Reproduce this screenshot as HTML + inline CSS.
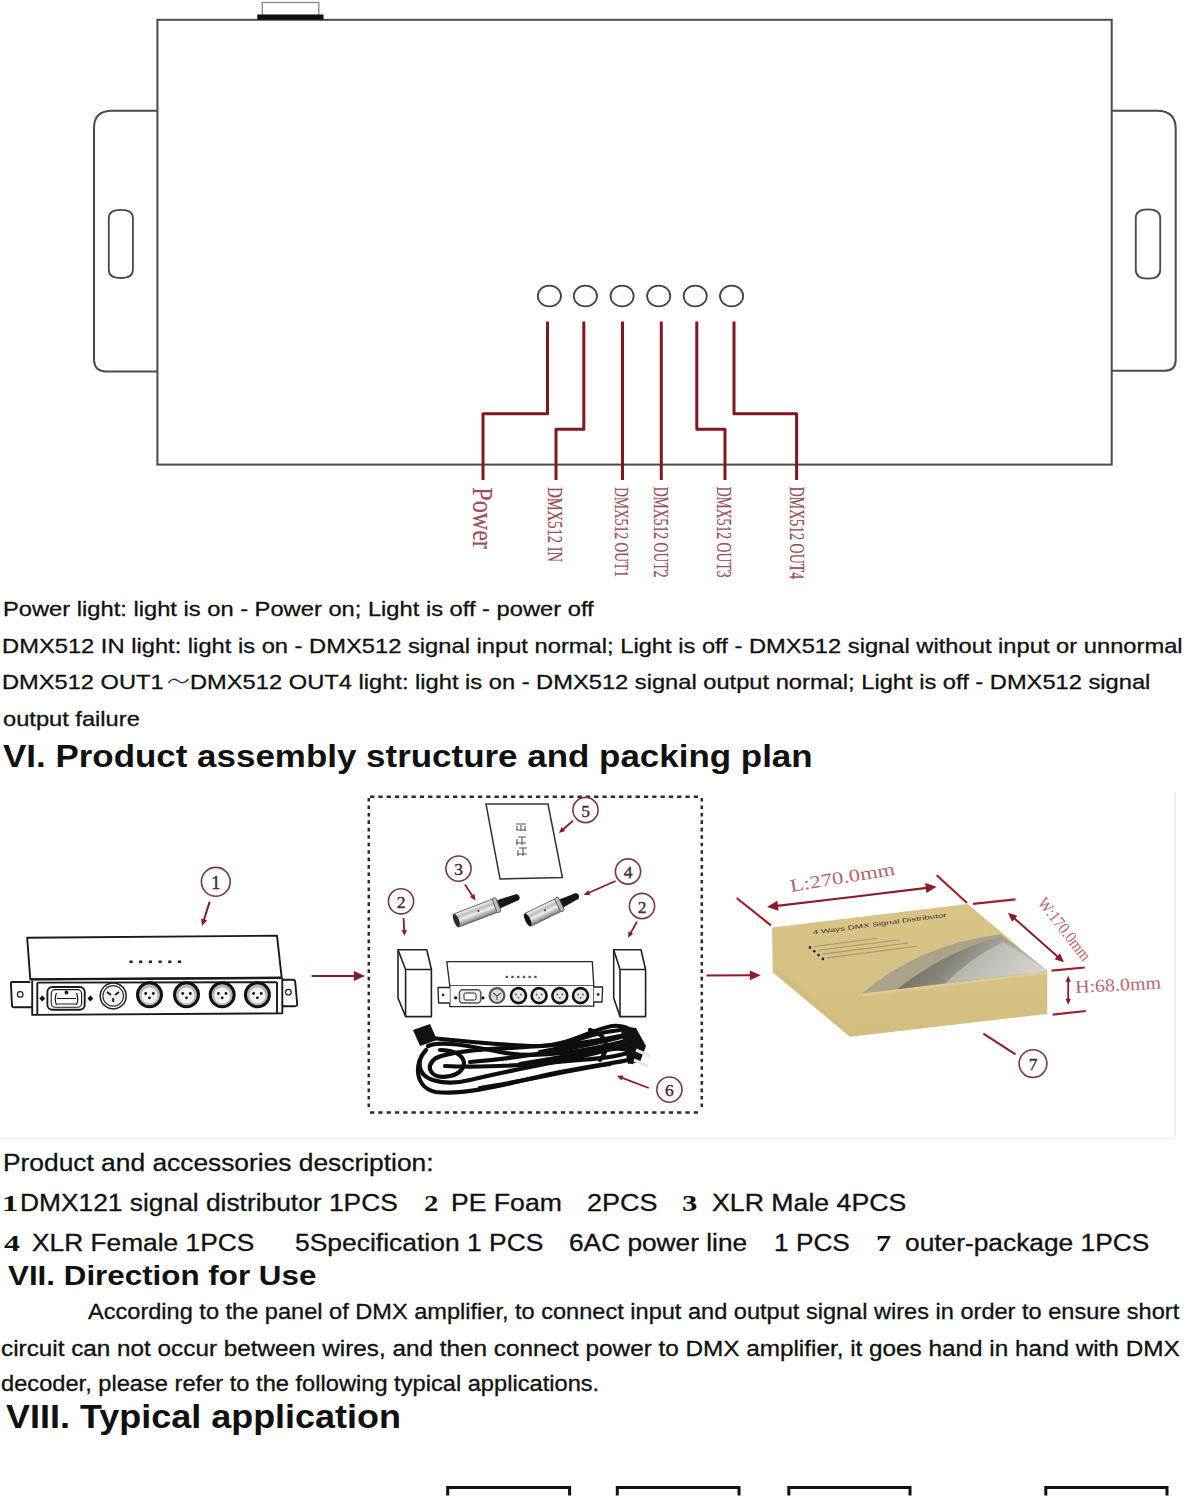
<!DOCTYPE html>
<html><head><meta charset="utf-8"><style>
html,body{margin:0;padding:0;background:#fff;}
body{width:1185px;height:1500px;position:relative;overflow:hidden;}
.t{position:absolute;white-space:nowrap;font-family:"Liberation Sans",sans-serif;color:#111;transform-origin:0 0;-webkit-text-stroke:0.3px #111;}
.b{-webkit-text-stroke:0;}
svg{position:absolute;left:0;top:0;}
.v{position:absolute;white-space:nowrap;font-family:"Liberation Serif",serif;color:#a04e56;transform-origin:0 0;-webkit-text-stroke:0.15px #8a3a42;}
</style></head><body>
<svg width="1185" height="1500" viewBox="0 0 1185 1500">
<defs>
<linearGradient id="silver" x1="0" y1="0" x2="0" y2="1">
 <stop offset="0" stop-color="#fbfbfb"/><stop offset="0.3" stop-color="#bdbdbd"/><stop offset="0.55" stop-color="#ededed"/><stop offset="1" stop-color="#7a7a7a"/>
</linearGradient>
<linearGradient id="win" x1="0" y1="0" x2="1" y2="0.3">
 <stop offset="0" stop-color="#5f5b4d"/><stop offset="0.45" stop-color="#85827a"/><stop offset="1" stop-color="#d5d4d0"/>
</linearGradient>
<marker id="ah" viewBox="0 0 10 10" refX="9" refY="5" markerWidth="4" markerHeight="4" orient="auto-start-reverse">
 <path d="M0 0 L10 5 L0 10 Z" fill="#c0141e"/>
</marker>
</defs>
<g fill="none" stroke="#4a4a4a" stroke-width="2">
  <rect x="262.3" y="2.5" width="56.5" height="13" stroke="#888" stroke-width="1.3"/>
  <rect x="157.4" y="19.8" width="954.3" height="444.8"/>
  <path d="M157.4 110.8 H112 Q94 110.8 94 128 V360 Q94.5 371.4 106 371.4 H157.4"/>
  <path d="M1111.7 110.7 H1157 Q1175.7 110.7 1175.7 129 V360 Q1175.7 370.7 1165 370.7 H1111.7"/>
  <path d="M108.8 218 Q108.8 209.8 120.8 209.8 Q132.9 209.8 132.9 218 V270 Q132.9 278 120.8 278 Q108.8 278 108.8 270 Z" stroke-width="1.8"/>
  <path d="M1135.8 218 Q1135.8 209.4 1148 209.4 Q1160.2 209.4 1160.2 218 V270 Q1160.2 278.6 1148 278.6 Q1135.8 278.6 1135.8 270 Z" stroke-width="1.8"/>
</g>
<g fill="none" stroke="#444" stroke-width="1.8">
<ellipse cx="549.4" cy="296" rx="11.6" ry="10.4"/>
<ellipse cx="585.4" cy="296" rx="11.6" ry="10.4"/>
<ellipse cx="622.1" cy="296" rx="11.6" ry="10.4"/>
<ellipse cx="658.7" cy="296" rx="11.6" ry="10.4"/>
<ellipse cx="695.2" cy="296" rx="11.6" ry="10.4"/>
<ellipse cx="731.6" cy="296" rx="11.6" ry="10.4"/>
</g>
<rect x="257.3" y="14.5" width="66.2" height="5.2" fill="#111"/>
<g fill="none" stroke="#84161f" stroke-width="3" stroke-linejoin="round">
  <path d="M547.5 321.5 V413.7 H483 V480"/>
  <path d="M583.8 321.5 V429.3 H556 V480"/>
  <path d="M622.5 321.5 V480"/>
  <path d="M661.3 321.5 V480"/>
  <path d="M696.8 321.5 V429.3 H725 V480"/>
  <path d="M734 321.5 V413.7 H796.6 V480"/>
</g>
<path d="M1175 792 V1138.5 H0" fill="none" stroke="#f2f2f2" stroke-width="2"/>
<g fill="none" stroke="#1a1a1a" stroke-width="1.9" stroke-linejoin="round">
<path d="M27.2 937.7 L277 935.7 L281.7 977.8 L30.3 979.4 Z" fill="#fff"/>
<path d="M30.3 979.4 L281.7 977.8" stroke-width="2.4"/>
<path d="M37.3 982.6 L277 982.2"/>
<path d="M32.2 980.7 L32.2 1014.9 L282.3 1013.3 L282.3 978"/>
<path d="M37.3 982.6 L37.3 1014.5"/>
<path d="M277 982.2 L277 1013.4"/>
<path d="M30 982 L12 982 Q10.7 982 10.9 984 L12 1005.5 Q12.2 1007.3 14 1007.3 L32 1007.3"/>
<circle cx="20.2" cy="994.4" r="2.8" stroke-width="1.2"/>
<path d="M282 979.8 L293 979.8 Q295 979.8 295.2 982 L297.2 1004 Q297.3 1006.2 295 1006.2 L282.3 1006.2"/>
<circle cx="288.4" cy="992.2" r="2.8" stroke-width="1.2"/>
<rect x="47.4" y="987" width="37.3" height="22.8" rx="5"/>
<rect x="51.2" y="989.6" width="30.4" height="17.7" rx="4" stroke-width="1.1"/>
<path d="M56.5 993 Q54 999 56.5 1005 M76.5 993 Q79 999 76.5 1005 M57 998.5 H76 M57 1004 H76" stroke-width="1.2"/>
<circle cx="66.4" cy="992.5" r="1" fill="#111"/>
</g>
<path d="M42.3 995.4 L45.3 998.4 L42.3 1001.4 L39.3 998.4 Z M90.4 995.4 L93.4 998.4 L90.4 1001.4 L87.4 998.4 Z" fill="#111"/>
<circle cx="113.2" cy="995.9" r="13" fill="#fff" stroke="#222" stroke-width="1.5"/>
<circle cx="113.2" cy="995.9" r="10.3" fill="#f2f2f2" stroke="#333" stroke-width="1.2"/>
<path d="M107 992 L111 995 M119 992 L115 995 M113.2 1002 V998" stroke="#222" stroke-width="2"/>
<circle cx="149.5" cy="994.8" r="12" fill="#b8b8b8" stroke="#111" stroke-width="3"/>
<circle cx="149.5" cy="995.5" r="8" fill="#f4f4f4"/>
<circle cx="145.7" cy="993.5" r="1.4" fill="#111"/><circle cx="153.3" cy="993.5" r="1.4" fill="#111"/><circle cx="149.5" cy="997.8" r="1.4" fill="#111"/>
<circle cx="186.5" cy="994.8" r="12" fill="#b8b8b8" stroke="#111" stroke-width="3"/>
<circle cx="186.5" cy="995.5" r="8" fill="#f4f4f4"/>
<circle cx="182.7" cy="993.5" r="1.4" fill="#111"/><circle cx="190.3" cy="993.5" r="1.4" fill="#111"/><circle cx="186.5" cy="997.8" r="1.4" fill="#111"/>
<circle cx="222.2" cy="994.8" r="12" fill="#b8b8b8" stroke="#111" stroke-width="3"/>
<circle cx="222.2" cy="995.5" r="8" fill="#f4f4f4"/>
<circle cx="218.39999999999998" cy="993.5" r="1.4" fill="#111"/><circle cx="226.0" cy="993.5" r="1.4" fill="#111"/><circle cx="222.2" cy="997.8" r="1.4" fill="#111"/>
<circle cx="257.4" cy="994.8" r="12" fill="#b8b8b8" stroke="#111" stroke-width="3"/>
<circle cx="257.4" cy="995.5" r="8" fill="#f4f4f4"/>
<circle cx="253.59999999999997" cy="993.5" r="1.4" fill="#111"/><circle cx="261.2" cy="993.5" r="1.4" fill="#111"/><circle cx="257.4" cy="997.8" r="1.4" fill="#111"/>
<rect x="129.4" y="960.5" width="3.2" height="2.6" fill="#222"/>
<rect x="139.1" y="960.5" width="3.2" height="2.6" fill="#222"/>
<rect x="148.8" y="960.5" width="3.2" height="2.6" fill="#222"/>
<rect x="158.5" y="960.5" width="3.2" height="2.6" fill="#222"/>
<rect x="168.20000000000002" y="960.5" width="3.2" height="2.6" fill="#222"/>
<rect x="177.9" y="960.5" width="3.2" height="2.6" fill="#222"/>
<circle cx="215.8" cy="881.8" r="14.4" fill="none" stroke="#7a3a42" stroke-width="1.6"/>
<text x="215.8" y="889.0" font-family="Liberation Serif" font-size="18.400000000000002" font-weight="400" fill="#4a2a30" stroke="#4a2a30" stroke-width="0.4" text-anchor="middle">1</text>
<line x1="209.7" y1="901.6" x2="203.8056658708069" y2="920.2781497080924" stroke="#8a1c26" stroke-width="2"/>
<path d="M202 926 L201.10263877935657 918.3765334106008 L207.11058158585953 920.2724825749481 Z" fill="#8a1c26"/>
<line x1="311.6" y1="976" x2="355.0" y2="976.0" stroke="#8a1c26" stroke-width="2"/>
<path d="M365 976 L354.0 980.95 L354.0 971.05 Z" fill="#8a1c26"/>
<g fill="none" stroke="#2a2a2a" stroke-width="2.5">
<path d="M370 796.7 H701.8 M370 1112.4 H701.8" stroke-dasharray="4.3 4"/>
<path d="M368.8 798 V1111 M701.8 798 V1111" stroke-dasharray="3.6 3.85"/>
</g>
<path d="M486 804 L548 804 L562.4 877.5 L500 879 Z" fill="#fff" stroke="#333" stroke-width="1.5"/>
<path d="M516 824 h10 M517 826 v4 M521 825 v6 M525 826 v5 M516 830 h10 M518 837 h8 M517 839 v6 M522 837 v8 M516 843 h10 M519 848 h8 M518 850 v6 M523 848 v8 M517 854 h10" stroke="#555" stroke-width="1.1" fill="none"/>
<circle cx="585.5" cy="810" r="12.6" fill="none" stroke="#7a3a42" stroke-width="1.6"/>
<text x="585.5" y="816.84" font-family="Liberation Serif" font-size="17.48" font-weight="400" fill="#4a2a30" stroke="#4a2a30" stroke-width="0.4" text-anchor="middle">5</text>
<line x1="573" y1="820.8" x2="562.6810985781442" y2="829.7284111593361" stroke="#8a1c26" stroke-width="1.8"/>
<path d="M558.9 833 L561.6706603198146 827.0323001590056 L565.2039762677315 831.1158866234013 Z" fill="#8a1c26"/>
<circle cx="458.5" cy="868.6" r="12.6" fill="none" stroke="#7a3a42" stroke-width="1.6"/>
<text x="458.5" y="875.44" font-family="Liberation Serif" font-size="17.48" font-weight="400" fill="#4a2a30" stroke="#4a2a30" stroke-width="0.4" text-anchor="middle">3</text>
<line x1="464.9" y1="884.6" x2="472.7264990188738" y2="896.3397485283108" stroke="#8a1c26" stroke-width="1.8"/>
<path d="M475.5 900.5 L469.9252630279364 897.0053887637811 L474.4183346173608 894.0100077041649 Z" fill="#8a1c26"/>
<circle cx="628" cy="871.5" r="12.6" fill="none" stroke="#7a3a42" stroke-width="1.6"/>
<text x="628" y="878.34" font-family="Liberation Serif" font-size="17.48" font-weight="400" fill="#4a2a30" stroke="#4a2a30" stroke-width="0.4" text-anchor="middle">4</text>
<line x1="615.6" y1="881" x2="588.278477815781" y2="892.9906366952686" stroke="#8a1c26" stroke-width="1.8"/>
<path d="M583.7 895 L588.1091171943822 890.1163860138005 L590.2792295634922 895.061142054844 Z" fill="#8a1c26"/>
<circle cx="401" cy="901.3" r="12.6" fill="none" stroke="#7a3a42" stroke-width="1.6"/>
<text x="401" y="908.14" font-family="Liberation Serif" font-size="17.48" font-weight="400" fill="#4a2a30" stroke="#4a2a30" stroke-width="0.4" text-anchor="middle">2</text>
<line x1="403.5" y1="918" x2="404.2950134102932" y2="931.0093103502522" stroke="#8a1c26" stroke-width="1.8"/>
<path d="M404.6 936 L401.53904368148807 930.1758651787444 L406.92898850321563 929.846479661861 Z" fill="#8a1c26"/>
<circle cx="642" cy="906" r="12.6" fill="none" stroke="#7a3a42" stroke-width="1.6"/>
<text x="642" y="912.84" font-family="Liberation Serif" font-size="17.48" font-weight="400" fill="#4a2a30" stroke="#4a2a30" stroke-width="0.4" text-anchor="middle">2</text>
<line x1="636.9" y1="921.8" x2="630.4305330334405" y2="933.4305024117922" stroke="#8a1c26" stroke-width="1.8"/>
<path d="M628 937.8 L628.5571109424965 931.2441150560927 L633.2761683377609 933.8690907322085 Z" fill="#8a1c26"/>
<g transform="translate(455,921) rotate(-20.97220656974625)">
<path d="M44.3870671631652 -4.5 L67.2901868954039 -3.2 Q70.7901868954039 0 67.2901868954039 3.2 L44.3870671631652 4.5 Z" fill="#161616"/>
<rect x="0" y="-7" width="46.3870671631652" height="14" rx="2" fill="url(#silver)" stroke="#555" stroke-width="0.8"/>
<rect x="42.3870671631652" y="-7.5" width="4" height="15" rx="1" fill="#bdbdbd" stroke="#555" stroke-width="0.8"/>
<ellipse cx="1.5" cy="0" rx="2.6" ry="6.8" fill="#2a2a2a"/>
<circle cx="25.512886939740863" cy="-1" r="1" fill="#333"/>
</g>
<g transform="translate(526.4,920.5) rotate(-25.951817015253592)">
<path d="M36.748935469248764 -4.5 L56.49888887833686 -3.2 Q59.99888887833686 0 56.49888887833686 3.2 L36.748935469248764 4.5 Z" fill="#161616"/>
<rect x="0" y="-7" width="38.748935469248764" height="14" rx="2" fill="url(#silver)" stroke="#555" stroke-width="0.8"/>
<rect x="34.748935469248764" y="-7.5" width="4" height="15" rx="1" fill="#bdbdbd" stroke="#555" stroke-width="0.8"/>
<ellipse cx="1.5" cy="0" rx="2.6" ry="6.8" fill="#111"/>
<circle cx="21.311914508086822" cy="-1" r="1" fill="#333"/>
</g>
<g fill="#fff" stroke="#222" stroke-width="1.6" stroke-linejoin="round">
<path d="M398 949.7 L426.8 949.7 L431.4 969.5 L431.4 1016.6 L405.6 1016.6 L398 998 Z"/>
<path d="M398 949.7 L405.6 969.5 L431.4 969.5 M405.6 969.5 V1016.6" fill="none"/>
<path d="M613.7 949.7 L641 949.7 L645.6 969.5 L645.6 1016.6 L620 1016.6 L613.7 998 Z"/>
<path d="M613.7 949.7 L620 969.5 L645.6 969.5 M620 969.5 V1016.6" fill="none"/>
</g>
<g fill="#fff" stroke="#222" stroke-width="1.3" stroke-linejoin="round">
<path d="M446.8 961.6 L592.3 961.6 L593.8 986 L449.8 986 Z"/>
<path d="M449.8 986 L449.8 1006.7 L593.8 1006 L593.8 986"/>
<path d="M449.8 987.5 L438 987.5 L438.6 1003 L449.8 1003 M593.8 987 L602.6 987 L602 1002 L593.8 1002"/>
<rect x="459.4" y="989.7" width="21.4" height="13.3" rx="3.5" stroke-width="1.5" stroke="#555" fill="#eee"/>
<rect x="464" y="993" width="12" height="7" rx="1.5" stroke-width="1" fill="#fff"/>
</g>
<circle cx="443.1" cy="994.9" r="1.4" fill="#333"/><circle cx="598.2" cy="994.5" r="1.4" fill="#333"/>
<circle cx="455.7" cy="997.8" r="1.6" fill="#111"/><circle cx="483" cy="997.8" r="1.6" fill="#111"/>
<circle cx="497" cy="995.6" r="7.4" fill="#ddd" stroke="#555" stroke-width="2.2"/><path d="M493 993 L497 996 L501 993 M497 996 V1000" stroke="#555" stroke-width="1.2" fill="none"/>
<circle cx="518.5" cy="995.6" r="7.5" fill="#e8e8e8" stroke="#111" stroke-width="2.6"/><circle cx="516.0" cy="994.5" r="0.9" fill="#555"/><circle cx="521.0" cy="994.5" r="0.9" fill="#555"/><circle cx="518.5" cy="997.8" r="0.9" fill="#555"/>
<circle cx="539.1" cy="995.6" r="7.5" fill="#e8e8e8" stroke="#111" stroke-width="2.6"/><circle cx="536.6" cy="994.5" r="0.9" fill="#555"/><circle cx="541.6" cy="994.5" r="0.9" fill="#555"/><circle cx="539.1" cy="997.8" r="0.9" fill="#555"/>
<circle cx="559.8" cy="995.6" r="7.5" fill="#e8e8e8" stroke="#111" stroke-width="2.6"/><circle cx="557.3" cy="994.5" r="0.9" fill="#555"/><circle cx="562.3" cy="994.5" r="0.9" fill="#555"/><circle cx="559.8" cy="997.8" r="0.9" fill="#555"/>
<circle cx="580.5" cy="995.6" r="7.5" fill="#e8e8e8" stroke="#111" stroke-width="2.6"/><circle cx="578.0" cy="994.5" r="0.9" fill="#555"/><circle cx="583.0" cy="994.5" r="0.9" fill="#555"/><circle cx="580.5" cy="997.8" r="0.9" fill="#555"/>
<rect x="505.6" y="975.8" width="2.4" height="2.2" fill="#555"/>
<rect x="511.32" y="975.8" width="2.4" height="2.2" fill="#555"/>
<rect x="517.04" y="975.8" width="2.4" height="2.2" fill="#555"/>
<rect x="522.76" y="975.8" width="2.4" height="2.2" fill="#555"/>
<rect x="528.48" y="975.8" width="2.4" height="2.2" fill="#555"/>
<rect x="534.1999999999999" y="975.8" width="2.4" height="2.2" fill="#555"/>
<g fill="none" stroke="#0d0d0d" stroke-width="4.2" stroke-linecap="round" stroke-linejoin="round">
<path d="M432 1038 C470 1042, 510 1046, 540 1046 C570 1045, 590 1030, 612 1026 C630 1024, 640 1036, 636 1046"/>
<path d="M428 1046 C440 1040, 470 1046, 500 1052 C540 1060, 590 1050, 630 1040"/>
<path d="M426 1050 C414 1062, 414 1088, 436 1092 C470 1096, 520 1080, 560 1072 C600 1064, 625 1062, 636 1058"/>
<path d="M420 1060 C416 1082, 446 1086, 470 1080 C510 1070, 560 1062, 600 1052 C620 1046, 636 1048, 632 1062"/>
<path d="M440 1050 C470 1050, 470 1072, 450 1076 C430 1080, 424 1066, 436 1058 C460 1046, 540 1050, 600 1040"/>
<path d="M470 1062 C520 1058, 580 1048, 625 1036"/>
<path d="M445 1066 C480 1068, 520 1066, 580 1060 C610 1058, 630 1054, 640 1048"/>
<path d="M480 1088 C520 1082, 570 1070, 610 1064"/>
<path d="M560 1046 C580 1038, 600 1032, 620 1030"/>
<path d="M540 1052 C570 1046, 600 1040, 630 1034"/>
<path d="M520 1064 C560 1058, 600 1050, 632 1044"/>
<path d="M590 1030 C605 1034, 612 1046, 600 1060"/>
</g>
<path d="M413 1030 L430 1024 L437 1040 L420 1046 Z" fill="#111"/>
<path d="M620 1026 L636 1028 L646 1046 L640 1062 L628 1064 Z" fill="#111"/>
<path d="M636 1050 L650 1056 M634 1060 L648 1066" stroke="#e8e8e8" stroke-width="3"/>
<circle cx="669.4" cy="1089.6" r="12.6" fill="none" stroke="#7a3a42" stroke-width="1.6"/>
<text x="669.4" y="1096.4399999999998" font-family="Liberation Serif" font-size="17.48" font-weight="400" fill="#4a2a30" stroke="#4a2a30" stroke-width="0.4" text-anchor="middle">6</text>
<line x1="648.8" y1="1088" x2="621.4719759449921" y2="1077.5811908290282" stroke="#8a1c26" stroke-width="1.8"/>
<path d="M616.8 1075.8 L623.3682141816658 1075.414561984538 L621.4445280863152 1080.4602960051297 Z" fill="#8a1c26"/>
<line x1="706.5" y1="975.6" x2="750.800152617" y2="975.3552477755966" stroke="#8a1c26" stroke-width="2"/>
<path d="M760.8 975.3 L749.8275155276203 980.3106970077413 L749.7728202297797 970.4108480985713 Z" fill="#8a1c26"/>
<linearGradient id="boxg" x1="0" y1="0" x2="0" y2="1"><stop offset="0" stop-color="#d8c487"/><stop offset="0.6" stop-color="#d5c183"/><stop offset="1" stop-color="#d2be7d"/></linearGradient>
<path d="M772.1 927.4 L967.6 904 L1047.3 971 L1047.3 1014 L850 1036.7 L772.7 972.3 Z" fill="url(#boxg)"/>
<path d="M772.7 972.3 L850 1036.7 L852 1032 L776 968 Z" fill="#cdb978" opacity="0.5"/>
<path d="M861.9 993.6 L1047.3 971 L1047.3 974 L862 996.5 Z" fill="#e0cf98" opacity="0.7"/>
<path d="M861.9 993.6 Q920 944 1000.5 934.3 L1047.3 971 Z" fill="#a9a38a"/>
<path d="M897 989.3 Q948 950 1000.5 937 L1047.3 971 Z" fill="url(#win)"/>
<path d="M945 983.5 Q972 957 1003 942 L1047.3 971 Z" fill="#d0cfcb" opacity="0.55"/>
<text x="813" y="934.5" font-family="Liberation Sans" font-size="6" font-weight="400" fill="#3a3528" transform="rotate(-7.5 813 934.5)" textLength="135" lengthAdjust="spacingAndGlyphs">4 Ways DMX Signal Distributor</text>
<circle cx="810.0" cy="947.5" r="1.3" fill="#1a1a1a"/>
<line x1="814.0" y1="946.5" x2="877.0" y2="938.31" stroke="#a8976a" stroke-width="1.1"/>
<circle cx="814.3" cy="951.3" r="1.3" fill="#1a1a1a"/>
<line x1="818.3" y1="950.3" x2="899.3" y2="939.77" stroke="#a8976a" stroke-width="1.1"/>
<circle cx="818.6" cy="955.1" r="1.3" fill="#1a1a1a"/>
<line x1="822.6" y1="954.1" x2="908.1" y2="942.985" stroke="#a8976a" stroke-width="1.1"/>
<circle cx="822.9" cy="958.9" r="1.3" fill="#1a1a1a"/>
<line x1="826.9" y1="957.9" x2="916.9" y2="946.1999999999999" stroke="#a8976a" stroke-width="1.1"/>
<line x1="736.7" y1="898" x2="770.9" y2="925.4" stroke="#a0202a" stroke-width="2.2"/>
<line x1="936.7" y1="875.3" x2="967" y2="903" stroke="#a0202a" stroke-width="2.2"/>
<line x1="852" y1="897" x2="776.9315060432288" y2="905.8315875243261" stroke="#8a1c26" stroke-width="2.2"/>
<path d="M767 907 L777.346292472093 900.7986507853605 L778.5030208230103 910.6308417681569 Z" fill="#8a1c26"/>
<line x1="852" y1="897" x2="926.7731296064176" y2="887.9071636960318" stroke="#8a1c26" stroke-width="2.2"/>
<path d="M936.7 886.7 L926.3779885965952 892.9416809104583 L925.1828965375236 883.1140792208117 Z" fill="#8a1c26"/>
<line x1="973" y1="903.8" x2="1015.5" y2="899.3" stroke="#a0202a" stroke-width="2.2"/>
<line x1="1036" y1="937.5" x2="1013.9887054413853" y2="918.0042819623699" stroke="#8a1c26" stroke-width="2"/>
<path d="M1008 912.7 L1017.4225863650082 915.6355350779647 L1012.0520008781087 921.6990993373674 Z" fill="#8a1c26"/>
<line x1="1036" y1="937.5" x2="1058.0112945586147" y2="956.9957180376301" stroke="#8a1c26" stroke-width="2"/>
<path d="M1064 962.3 L1054.577413634992 959.3644649220353 L1059.9479991218914 953.3009006626326 Z" fill="#8a1c26"/>
<line x1="1051.6" y1="970.6" x2="1084.7" y2="967.5" stroke="#a0202a" stroke-width="2.2"/>
<line x1="1052.7" y1="1014.6" x2="1085.8" y2="1011" stroke="#a0202a" stroke-width="2.2"/>
<line x1="1068.2" y1="990" x2="1068.2" y2="980.8" stroke="#8a1c26" stroke-width="1.8"/>
<path d="M1068.2 975.8 L1070.9 981.8 L1065.5 981.8 Z" fill="#8a1c26"/>
<line x1="1068.2" y1="990" x2="1068.2" y2="999.7" stroke="#8a1c26" stroke-width="1.8"/>
<path d="M1068.2 1004.7 L1065.5 998.7 L1070.9 998.7 Z" fill="#8a1c26"/>
<line x1="1015.5" y1="1054.3" x2="983.4" y2="1033.7" stroke="#8a1c26" stroke-width="2"/>
<path d="M983.4 1033.7 L984.4846468332734 1033.861373006014 L983.9985614504141 1034.6188167336734 Z" fill="#8a1c26"/>
<circle cx="1033" cy="1063.6" r="13.9" fill="none" stroke="#7a3a42" stroke-width="1.6"/>
<text x="1033" y="1070.4399999999998" font-family="Liberation Serif" font-size="17.48" font-weight="400" fill="#4a2a30" stroke="#4a2a30" stroke-width="0.4" text-anchor="middle">7</text>
<text x="791" y="892" font-family="Liberation Serif" font-size="18" fill="#b8636b" transform="rotate(-9.5 791 892) " textLength="106" lengthAdjust="spacingAndGlyphs">L:270.0mm</text>
<text x="1037" y="903" font-family="Liberation Serif" font-size="17" fill="#c0626a" transform="rotate(52 1037 903)" textLength="75" lengthAdjust="spacingAndGlyphs">W:170.0mm</text>
<text x="1075.4" y="993" font-family="Liberation Serif" font-size="18" fill="#b8686f" transform="rotate(-3 1075.4 993)" textLength="86" lengthAdjust="spacingAndGlyphs">H:68.0mm</text>
<path d="M168.4 683 C171 678.5, 175 678.5, 178.3 681 C181.5 683.5, 185.5 683.5, 188.3 679" fill="none" stroke="#333" stroke-width="1.5"/>
<g fill="none" stroke="#111" stroke-width="3">
<path d="M447.7 1495.5 V1487.5 H569.6 V1495.5"/>
<path d="M617.3 1495.5 V1487.5 H739 V1495.5"/>
<path d="M788.8 1495.5 V1487.5 H910 V1495.5"/>
<path d="M1045.8 1495.5 V1487.5 H1167 V1495.5"/>
</g>
</svg>
<div class="t" style="left:2.84px;top:597.50px;font-size:21px;line-height:21px;font-weight:400;transform:scaleX(1.1287)">Power light: light is on - Power on; Light is off - power off</div>
<div class="t" style="left:2.44px;top:634.70px;font-size:21px;line-height:21px;font-weight:400;transform:scaleX(1.1293)">DMX512 IN light: light is on - DMX512 signal input normal; Light is off - DMX512 signal without input or unnormal</div>
<div class="t" style="left:2.45px;top:671.00px;font-size:21px;line-height:21px;font-weight:400;transform:scaleX(1.1262)">DMX512 OUT1</div>
<div class="t" style="left:189.54px;top:671.00px;font-size:21px;line-height:21px;font-weight:400;transform:scaleX(1.1276)">DMX512 OUT4 light: light is on - DMX512 signal output normal; Light is off - DMX512 signal</div>
<div class="t" style="left:2.87px;top:707.60px;font-size:21px;line-height:21px;font-weight:400;transform:scaleX(1.1267)">output failure</div>
<div class="t b" style="left:3.30px;top:740.40px;font-size:32px;line-height:32px;font-weight:700;transform:scaleX(1.0918)">VI. Product assembly structure and packing plan</div>
<div class="t" style="left:3.01px;top:1152.30px;font-size:23px;line-height:23px;font-weight:400;transform:scaleX(1.1454)">Product and accessories description:</div>
<div class="t b" style="left:2.18px;top:1192.00px;font-size:23px;line-height:23px;font-weight:400;font-family:'Liberation Serif',serif;font-weight:700;transform:scaleX(1.4111)">1</div>
<div class="t" style="left:20.01px;top:1192.00px;font-size:23px;line-height:23px;font-weight:400;transform:scaleX(1.1453)">DMX121 signal distributor 1PCS</div>
<div class="t b" style="left:424.25px;top:1192.00px;font-size:23px;line-height:23px;font-weight:400;font-family:'Liberation Serif',serif;font-weight:700;transform:scaleX(1.2500)">2</div>
<div class="t" style="left:451.49px;top:1192.00px;font-size:23px;line-height:23px;font-weight:400;transform:scaleX(1.1559)">PE Foam</div>
<div class="t" style="left:586.83px;top:1192.00px;font-size:23px;line-height:23px;font-weight:400;transform:scaleX(1.1724)">2PCS</div>
<div class="t b" style="left:682.37px;top:1192.00px;font-size:23px;line-height:23px;font-weight:400;font-family:'Liberation Serif',serif;font-weight:700;transform:scaleX(1.3300)">3</div>
<div class="t" style="left:711.84px;top:1192.00px;font-size:23px;line-height:23px;font-weight:400;transform:scaleX(1.1600)">XLR Male 4PCS</div>
<div class="t b" style="left:3.50px;top:1232.30px;font-size:23px;line-height:23px;font-weight:400;font-family:'Liberation Serif',serif;font-weight:700;transform:scaleX(1.3818)">4</div>
<div class="t" style="left:32.26px;top:1232.30px;font-size:23px;line-height:23px;font-weight:400;transform:scaleX(1.1438)">XLR Female 1PCS</div>
<div class="t" style="left:295.25px;top:1232.30px;font-size:23px;line-height:23px;font-weight:400;transform:scaleX(1.1495)">5Specification 1 PCS</div>
<div class="t" style="left:568.66px;top:1232.30px;font-size:23px;line-height:23px;font-weight:400;transform:scaleX(1.1422)">6AC power line</div>
<div class="t" style="left:774.22px;top:1232.30px;font-size:23px;line-height:23px;font-weight:400;transform:scaleX(1.1406)">1 PCS</div>
<div class="t b" style="left:875.59px;top:1232.30px;font-size:23px;line-height:23px;font-weight:400;font-family:'Liberation Serif',serif;font-weight:700;transform:scaleX(1.3100)">7</div>
<div class="t" style="left:905.36px;top:1232.30px;font-size:23px;line-height:23px;font-weight:400;transform:scaleX(1.1439)">outer-package 1PCS</div>
<div class="t b" style="left:7.80px;top:1260.60px;font-size:28.5px;line-height:28.5px;font-weight:700;transform:scaleX(1.1000)">VII. Direction for Use</div>
<div class="t" style="left:87.60px;top:1302.00px;font-size:21.5px;line-height:21.5px;font-weight:400;transform:scaleX(1.0961)">According to the panel of DMX amplifier, to connect input and output signal wires in order to ensure short</div>
<div class="t" style="left:0.77px;top:1338.50px;font-size:21.5px;line-height:21.5px;font-weight:400;transform:scaleX(1.1297)">circuit can not occur between wires, and then connect power to DMX amplifier, it goes hand in hand with DMX</div>
<div class="t" style="left:0.80px;top:1374.30px;font-size:21.5px;line-height:21.5px;font-weight:400;transform:scaleX(1.1000)">decoder, please refer to the following typical applications.</div>
<div class="t b" style="left:5.80px;top:1401.40px;font-size:32.5px;line-height:32.5px;font-weight:700;transform:scaleX(1.1065)">VIII. Typical application</div>
<div class="v" style="left:0;top:0;font-size:26px;line-height:26px;transform:translate(497.65px,487.32px) rotate(90deg) scale(0.9269,1.1618)">Power</div>
<div class="v" style="left:0;top:0;font-size:18px;line-height:18px;transform:translate(565.65px,487.19px) rotate(90deg) scale(0.8088,1.1769)">DMX512 IN</div>
<div class="v" style="left:0;top:0;font-size:18px;line-height:18px;transform:translate(630.81px,487.25px) rotate(90deg) scale(0.7521,1.0538)">DMX512 OUT1</div>
<div class="v" style="left:0;top:0;font-size:18px;line-height:18px;transform:translate(670.32px,486.74px) rotate(90deg) scale(0.7602,1.1077)">DMX512 OUT2</div>
<div class="v" style="left:0;top:0;font-size:18px;line-height:18px;transform:translate(734.23px,486.74px) rotate(90deg) scale(0.7602,1.1154)">DMX512 OUT3</div>
<div class="v" style="left:0;top:0;font-size:18px;line-height:18px;transform:translate(807.13px,486.73px) rotate(90deg) scale(0.7737,1.1154)">DMX512 OUT4</div>
</body></html>
